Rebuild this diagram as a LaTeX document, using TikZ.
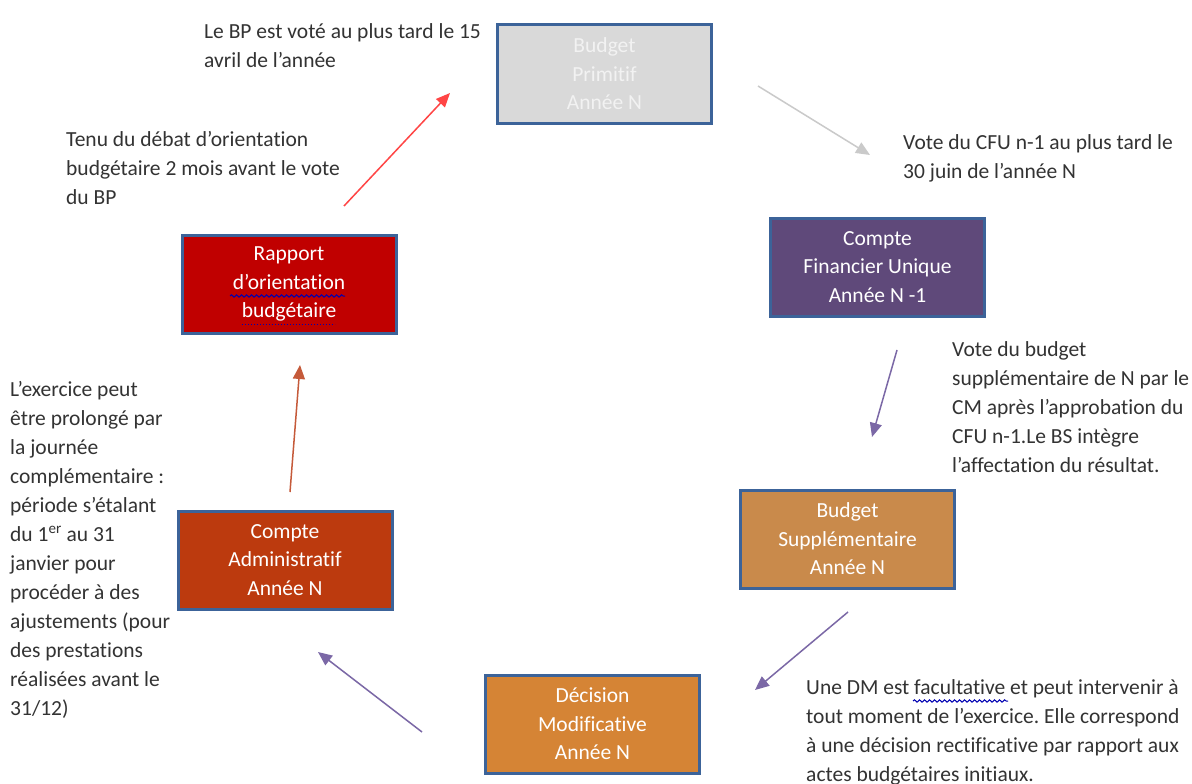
\documentclass[tikz,border=0pt]{standalone}
\usepackage{fontspec}
\setmainfont{Carlito}[Ligatures=NoCommon]
\usetikzlibrary{positioning}
\usetikzlibrary{arrows.meta}
\usetikzlibrary{decorations.pathmorphing}
\frenchspacing
\definecolor{cadre}{HTML}{3C6399}
\definecolor{texte}{HTML}{333333}
\definecolor{gris}{HTML}{D9D9D9}
\definecolor{rob}{HTML}{C00000}
\definecolor{cfu}{HTML}{5F497A}
\definecolor{bs}{HTML}{C98A4B}
\definecolor{dm}{HTML}{D58435}
\definecolor{ca}{HTML}{BC3A0E}
\definecolor{flrouge}{HTML}{FF4545}
\definecolor{flgris}{HTML}{CACACA}
\definecolor{flviolet}{HTML}{7B68A6}
\definecolor{flbrun}{HTML}{C55A3A}
\tikzset{
	etape/.style={draw=cadre, line width=3pt, minimum width=214pt, minimum height=98pt, align=center, text=white, font=\fontsize{21.5}{28.5}\selectfont},
	note/.style={anchor=north west, inner sep=0pt, align=left, text=texte, font=\fontsize{21.5}{29}\selectfont},
	fleche/.style={-{Triangle[length=14pt,width=12pt]}, line width=1.5pt},
	souligne/.style={draw=blue!70!black, line width=1pt, decorate, decoration={snake, amplitude=1.2pt, segment length=5pt}},
}
\begin{document}
\begin{tikzpicture}[x=1pt, y=-1pt]
	\fill[white] (0,0) rectangle (1192,784);
	\useasboundingbox (0,0) rectangle (1192,784);

	% etapes du cycle budgetaire
	\node[etape, fill=gris, text=white!95!black] (bp) at (604.5,74) {Budget\\Primitif\\Année N};
	\node[etape, fill=cfu] (cfu) at (877.5,267) {Compte\\Financier Unique\\Année N -1};
	\node[etape, fill=bs] (bs) at (847.5,539) {Budget\\Supplémentaire\\Année N};
	\node[etape, fill=dm] (dm) at (592.5,724) {Décision\\Modificative\\Année N};
	\node[etape, fill=ca] (ca) at (285,560) {Compte\\Administratif\\Année N};
	\node[etape, fill=rob] (rob) at (289,284) {Rapport\\d’orientation\\budgétaire};

	% commentaires
	\node[note] (n-bp) at (204,23) {Le BP est voté au plus tard le 15\\avril de l’année};
	\node[note] (n-rob) at (66,131) {Tenu du débat d’orientation\\budgétaire 2 mois avant le vote\\du BP};
	\node[note] (n-cfu) at (903,134) {Vote du CFU n-1 au plus tard le\\30 juin de l’année N};
	\node[note] (n-bs) at (952,341) {Vote du budget\\supplémentaire de N par le\\CM après l’approbation du\\CFU n-1.Le BS intègre\\l’affectation du résultat.};
	\node[note] (n-ca) at (10,381) {L’exercice peut\\être prolongé par\\la journée\\complémentaire :\\période s’étalant\\du 1\textsuperscript{er} au 31\\janvier pour\\procéder à des\\ajustements (pour\\des prestations\\réalisées avant le\\31/12)};
	\node[note] (n-dm) at (806,679) {Une DM est facultative et peut intervenir à\\tout moment de l’exercice. Elle correspond\\à une décision rectificative par rapport aux\\actes budgétaires initiaux.};

	% extremites des fleches
	\coordinate (rob-haut) at (344,206);
	\coordinate (bp-gauche) at (450,93);
	\coordinate (bp-droite) at (758,86);
	\coordinate (cfu-haut) at (870,155);
	\coordinate (cfu-bas) at (897,350);
	\coordinate (bs-haut) at (872,437);
	\coordinate (bs-bas) at (848,612);
	\coordinate (dm-droite) at (755,690);
	\coordinate (dm-gauche) at (422,732);
	\coordinate (ca-droite) at (318,652);
	\coordinate (ca-haut) at (290,492);
	\coordinate (rob-bas) at (300,365);

	\draw[fleche, flrouge] (rob-haut) -- (bp-gauche);
	\draw[fleche, flgris] (bp-droite) -- (cfu-haut);
	\draw[fleche, flviolet] (cfu-bas) -- (bs-haut);
	\draw[fleche, flviolet] (bs-bas) -- (dm-droite);
	\draw[fleche, flviolet] (dm-gauche) -- (ca-droite);
	\draw[fleche, flbrun] (ca-haut) -- (rob-bas);

	% soulignements du correcteur
	\draw[souligne] (230,296) -- (345,296);
	\draw[draw=blue!70!black, line width=1pt, dotted] (242,324) -- (335,324);
	\draw[souligne] (913,701) -- (1008,701);
\end{tikzpicture}
\end{document}
